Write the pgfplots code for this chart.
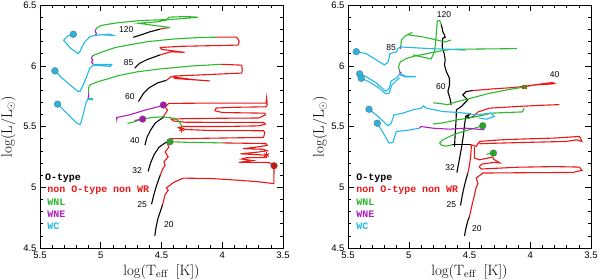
\documentclass[border=0pt]{standalone}
\usepackage{fontspec}
\usepackage{pgfplots}
\pgfplotsset{compat=1.18}
\newfontfamily\labfont{Liberation Sans}
\newfontfamily\legfont{Liberation Mono}
\definecolor{redC}{RGB}{235,22,22}
\definecolor{greenC}{RGB}{45,185,45}
\definecolor{purpC}{RGB}{175,30,190}
\definecolor{cyanC}{RGB}{35,185,230}
\definecolor{dotC}{RGB}{40,180,220}
\definecolor{dotP}{RGB}{165,25,170}
\definecolor{dotG}{RGB}{40,165,40}
\definecolor{dotR}{RGB}{200,20,20}
\tikzset{
 lab/.style={font=\labfont\fontsize{8.5}{9}\selectfont, inner sep=0pt},
 leg/.style={font=\legfont\bfseries\fontsize{10}{10}\selectfont, inner sep=0pt, anchor=west},
}
\pgfplotsset{
 hr/.style={scale only axis, width=243bp, height=243bp,
  xmin=3.5, xmax=5.5, ymin=4.5, ymax=6.5, x dir=reverse,
  xtick={3.5,4,4.5,5,5.5}, ytick={4.5,5,5.5,6,6.5},
  minor x tick num=4, minor y tick num=4,
  tick align=inside, major tick length=6bp, minor tick length=3bp,
  tick style={black, line width=0.5pt}, axis line style={line width=0.6pt},
  /pgf/number format/assume math mode=true,
  tick label style={font=\labfont\fontsize{9.5}{10}\selectfont},
  xlabel={$\log(\mathrm{T}_{\mathrm{eff}}\;\;[\mathrm{K}])$},
  ylabel={$\log(\mathrm{L}/\mathrm{L}_\odot)$},
  label style={font=\fontsize{15}{15}\selectfont},
  ylabel style={at={(axis description cs:-0.13,0.5)}, anchor=center},
  xlabel style={at={(axis description cs:0.5,-0.097)}, anchor=center},
 },
 ms/.style={black, line width=1.1bp},
 rd/.style={redC, line width=1.1bp},
 gr/.style={greenC, line width=1.1bp},
 pu/.style={purpC, line width=1.1bp},
 cy/.style={cyanC, line width=1.1bp},
 dc/.style={only marks, mark=*, mark size=3.4bp, mark options={fill=dotC, draw=black!60, line width=0.3bp}},
 dp/.style={only marks, mark=*, mark size=3.4bp, mark options={fill=dotP, draw=black!60, line width=0.3bp}},
 dg/.style={only marks, mark=*, mark size=3.4bp, mark options={fill=dotG, draw=black!60, line width=0.3bp}},
 dr/.style={only marks, mark=*, mark size=3.4bp, mark options={fill=dotR, draw=black!60, line width=0.3bp}},
}
\begin{document}
\begin{tikzpicture}
\useasboundingbox (-40bp,-32bp) rectangle (560bp,248bp);
% ================= LEFT PANEL =================
\begin{axis}[hr, at={(0,0)}, anchor=south west]
% main sequence
\addplot[ms] coordinates {(4.733,6.234)(4.68,6.25)(4.60,6.278)(4.51,6.302)};
\addplot[ms] coordinates {(4.72,5.98)(4.68,6.02)(4.62,6.05)(4.56,6.072)(4.51,6.09)};
\addplot[ms] coordinates {(4.69,5.705)(4.65,5.77)(4.60,5.82)(4.53,5.86)(4.46,5.88)};
\addplot[ms] coordinates {(4.636,5.347)(4.62,5.41)(4.59,5.47)(4.55,5.53)(4.50,5.565)(4.48,5.578)};
\addplot[ms] coordinates {(4.61,5.13)(4.59,5.20)(4.56,5.27)(4.52,5.33)(4.47,5.365)(4.43,5.375)};
\addplot[ms] coordinates {(4.582,4.86)(4.565,4.93)(4.545,5.00)(4.525,5.06)(4.51,5.10)};
\addplot[ms] coordinates {(4.555,4.60)(4.545,4.67)(4.53,4.74)(4.51,4.80)(4.49,4.86)};
% red
\addplot[rd] coordinates {(4.51,6.302)(4.47,6.31)(4.43,6.315)};
\addplot[rd] coordinates {(4.51,6.09)(4.42,6.115)(4.31,6.11)(4.50,6.135)(4.51,6.15)(4.34,6.16)(4.10,6.165)(3.87,6.17)(3.86,6.20)(3.88,6.235)(4.05,6.235)};
\addplot[rd] coordinates {(4.46,5.88)(4.42,5.91)(4.23,5.885)(4.10,5.875)(4.39,5.895)(4.40,5.915)(4.17,5.925)(3.84,5.94)(3.835,5.97)(3.84,6.005)(4.01,6.012)};
\addplot[rd] coordinates {(4.485,5.58)(4.45,5.635)(4.47,5.66)(4.44,5.69)(4.20,5.692)(3.90,5.692)(3.64,5.692)(3.635,5.735)(3.63,5.68)(3.64,5.662)(3.90,5.658)(4.05,5.652)(4.06,5.63)(4.00,5.615)(3.80,5.612)(3.65,5.61)(3.645,5.595)(3.70,5.57)(4.00,5.568)(4.30,5.565)(4.42,5.56)(4.40,5.545)(4.30,5.535)(3.66,5.533)(3.645,5.52)(3.70,5.505)(4.00,5.50)(4.33,5.50)(4.36,5.49)(4.30,5.475)(4.09,5.467)(3.66,5.465)(3.65,5.45)(3.66,5.41)(4.09,5.404)(4.30,5.40)(4.42,5.40)(4.44,5.385)};
\addplot[rd] coordinates {(4.00,5.365)(3.80,5.362)(3.64,5.36)(3.63,5.345)(3.72,5.33)(3.83,5.318)(3.66,5.312)(3.63,5.30)(3.70,5.29)(3.85,5.275)(3.70,5.268)(3.63,5.262)(3.65,5.245)(3.80,5.243)(3.84,5.232)(3.75,5.22)(3.86,5.205)(3.62,5.204)(3.59,5.19)(3.574,5.177)};
\addplot[rd] coordinates {(4.51,5.10)(4.49,5.15)(4.47,5.18)(4.48,5.21)(4.445,5.25)(4.47,5.29)(4.44,5.33)(4.45,5.36)(4.43,5.375)};
\addplot[rd] coordinates {(4.49,4.86)(4.47,4.94)(4.445,4.975)(4.46,4.995)(4.40,5.04)(4.32,5.075)(4.10,5.072)(3.90,5.06)(3.70,5.045)(3.575,5.03)(3.574,5.177)};
% green
\addplot[gr] coordinates {(4.43,6.315)(4.55,6.33)(4.69,6.35)(4.55,6.36)(4.46,6.375)(4.44,6.40)(4.30,6.405)(4.20,6.40)(4.30,6.39)(4.45,6.38)(4.60,6.375)(4.70,6.37)(4.85,6.355)(4.95,6.34)(5.00,6.33)(5.035,6.31)(5.04,6.30)};
\addplot[gr] coordinates {(4.05,6.235)(4.20,6.232)(4.40,6.22)(4.60,6.20)(4.75,6.175)(4.88,6.15)(4.97,6.12)(5.05,6.09)(5.07,6.08)};
\addplot[gr] coordinates {(4.01,6.012)(4.25,5.998)(4.50,5.975)(4.70,5.95)(4.85,5.92)(4.95,5.89)(5.02,5.87)(5.07,5.85)(5.09,5.84)(5.10,5.82)(5.10,5.78)};
\addplot[gr] coordinates {(4.78,5.525)(4.72,5.54)(4.66,5.56)(4.57,5.575)(4.49,5.58)(4.39,5.567)(4.36,5.548)(4.33,5.50)(4.335,5.475)};
\addplot[gr] coordinates {(4.43,5.375)(4.30,5.37)(4.15,5.368)(4.00,5.365)};
% purple
\addplot[pu] coordinates {(5.04,6.30)(5.045,6.28)(5.035,6.265)(5.045,6.25)};
\addplot[pu] coordinates {(5.07,6.08)(5.075,6.06)(5.065,6.045)(5.075,6.03)(5.06,6.01)};
\addplot[pu] coordinates {(5.10,5.78)(5.10,5.75)(5.105,5.73)};
\addplot[pu] coordinates {(4.87,5.58)(4.868,5.56)(4.865,5.575)(4.77,5.594)(4.70,5.615)(4.635,5.635)(4.526,5.663)(4.485,5.677)};
\addplot[pu] coordinates {(4.72,5.55)(4.655,5.561)};
% cyan
\addplot[cy] coordinates {(5.045,6.25)(4.93,6.26)(4.90,6.25)(5.00,6.255)(5.045,6.25)(5.09,6.24)(5.14,6.185)(5.17,6.12)(5.185,6.10)(5.25,6.145)(5.305,6.21)(5.27,6.245)(5.226,6.259)};
\addplot[cy] coordinates {(5.06,6.01)(4.91,6.01)(4.92,5.995)(5.06,6.005)(5.09,5.98)(5.10,5.955)(5.12,5.90)(5.15,5.83)(5.17,5.79)(5.19,5.79)(5.25,5.84)(5.32,5.90)(5.377,5.958)};
\addplot[cy] coordinates {(5.105,5.73)(5.07,5.73)(5.07,5.72)(5.105,5.725)(5.12,5.70)(5.14,5.62)(5.16,5.54)(5.17,5.515)(5.20,5.53)(5.26,5.59)(5.31,5.64)(5.355,5.684)};
% dots
\addplot[dc] coordinates {(5.226,6.259)(5.377,5.958)(5.355,5.684)};
\addplot[dp] coordinates {(4.485,5.677)(4.655,5.561)};
\addplot[dg] coordinates {(4.43,5.375)};
\addplot[dr] coordinates {(3.574,5.177)};
\addplot[only marks, mark=asterisk, mark size=3bp, redC, line width=0.8bp] coordinates {(4.335,5.475)(3.635,5.265)};
% labels
\node[lab] at (axis cs:4.79,6.295) {120};
\node[lab] at (axis cs:4.77,6.03) {85};
\node[lab] at (axis cs:4.76,5.745) {60};
\node[lab] at (axis cs:4.72,5.38) {40};
\node[lab] at (axis cs:4.70,5.14) {32};
\node[lab] at (axis cs:4.66,4.856) {25};
\node[lab] at (axis cs:4.44,4.69) {20};
\node[leg, text=black] at (axis cs:5.46,5.075) {O-type};
\node[leg, text=redC] at (axis cs:5.44,4.974) {non O-type non WR};
\node[leg, text=greenC] at (axis cs:5.44,4.878) {WNL};
\node[leg, text=purpC] at (axis cs:5.44,4.78) {WNE};
\node[leg, text=cyanC] at (axis cs:5.44,4.678) {WC};
\end{axis}
% ================= RIGHT PANEL =================
\begin{axis}[hr, at={(308bp,0)}, anchor=south west,
  ylabel style={at={(axis description cs:-0.115,0.5)}, anchor=center}]
% black
\addplot[ms] coordinates {(4.651,5.678)(4.66,5.73)(4.678,5.788)(4.665,5.84)(4.665,5.897)(4.69,5.95)(4.706,6.007)(4.70,6.05)(4.706,6.089)(4.725,6.158)(4.72,6.226)(4.70,6.235)(4.71,6.26)(4.72,6.28)(4.725,6.31)(4.733,6.34)};
\addplot[ms] coordinates {(4.623,5.335)(4.62,5.40)(4.615,5.48)(4.61,5.56)(4.608,5.637)(4.568,5.664)(4.514,5.719)(4.555,5.76)(4.527,5.788)(4.473,5.796)};
\addplot[ms] coordinates {(4.64,5.35)(4.49,5.35)};
\addplot[ms] coordinates {(4.604,5.12)(4.585,5.22)(4.565,5.33)(4.55,5.43)(4.54,5.52)(4.53,5.585)(4.50,5.60)(4.52,5.57)(4.49,5.575)(4.47,5.58)};
\addplot[ms] coordinates {(4.574,4.85)(4.56,4.93)(4.545,5.00)(4.53,5.06)(4.514,5.115)};
\addplot[ms] coordinates {(4.541,4.60)(4.53,4.66)(4.515,4.72)(4.50,4.76)};
% red
\addplot[rd] coordinates {(4.473,5.796)(4.42,5.80)(4.30,5.81)(4.15,5.82)(4.05,5.83)(3.95,5.845)(3.82,5.862)(3.80,5.855)(3.82,5.85)(3.95,5.843)(4.035,5.83)};
\addplot[rd] coordinates {(4.47,5.58)(4.43,5.62)(4.336,5.651)(4.10,5.665)(3.90,5.675)(3.76,5.68)};
\addplot[rd] coordinates {(4.514,5.115)(4.50,5.18)(4.49,5.26)(4.485,5.33)(4.487,5.35)(4.445,5.336)(4.418,5.377)(4.25,5.39)(4.09,5.396)(3.80,5.405)(3.596,5.418)(3.582,5.395)(3.575,5.377)(3.62,5.39)(3.706,5.377)(4.00,5.37)(4.30,5.362)(4.418,5.358)};
\addplot[rd] coordinates {(4.50,4.76)(4.48,4.85)(4.46,4.93)(4.445,5.00)(4.43,5.03)(4.445,5.075)(4.39,5.117)(4.0,5.12)(3.651,5.122)(3.574,5.139)(3.596,5.166)(3.80,5.17)(4.10,5.165)(4.404,5.15)(4.42,5.17)(4.40,5.19)(4.30,5.205)(4.25,5.20)(4.30,5.23)(4.31,5.248)(4.418,5.226)(4.46,5.24)(4.46,5.33)};
% green
\addplot[gr] coordinates {(4.733,6.34)(4.745,6.372)(4.765,6.368)(4.772,6.28)(4.78,6.18)(4.788,6.116)(4.816,6.056)(4.88,6.07)(4.966,6.089)};
\addplot[gr] coordinates {(5.065,6.165)(5.06,6.215)(5.03,6.245)(4.97,6.275)(5.01,6.255)(4.90,6.24)(4.78,6.215)(4.70,6.195)(4.651,6.212)};
\addplot[gr] coordinates {(5.075,5.96)(5.085,5.99)(5.07,6.03)(5.02,6.06)(4.95,6.08)(4.85,6.10)(4.75,6.12)(4.65,6.135)(4.40,6.138)(4.20,6.14)(4.11,6.142)};
\addplot[gr] coordinates {(4.80,5.695)(4.75,5.69)(4.68,5.68)(4.62,5.70)(4.50,5.73)(4.35,5.77)(4.20,5.80)(4.05,5.825)};
\addplot[gr] coordinates {(4.80,5.52)(4.72,5.53)(4.60,5.555)(4.50,5.57)(4.40,5.59)(4.32,5.61)(4.20,5.615)(4.065,5.62)(4.05,5.65)};
\addplot[gr] coordinates {(4.391,5.506)(4.48,5.48)(4.58,5.45)(4.66,5.42)(4.72,5.39)(4.745,5.365)(4.73,5.345)(4.69,5.338)(4.64,5.35)};
\addplot[gr] coordinates {(4.36,5.272)(4.303,5.281)};
% purple
\addplot[pu] coordinates {(5.065,6.165)(5.07,6.14)};
\addplot[pu] coordinates {(5.075,5.96)(5.072,5.935)(5.06,5.945)};
\addplot[pu] coordinates {(4.912,5.486)(4.90,5.50)(4.80,5.486)(4.664,5.478)(4.527,5.486)(4.377,5.473)};
% cyan
\addplot[cy] coordinates {(5.432,6.116)(5.35,6.10)(5.27,6.05)(5.20,6.007)(5.17,6.03)(5.155,6.10)(5.10,6.115)(5.09,6.14)(5.07,6.155)(4.95,6.148)(4.80,6.14)(4.65,6.135)(4.53,6.128)};
\addplot[cy] coordinates {(5.404,5.933)(5.35,5.91)(5.27,5.86)(5.19,5.79)(5.16,5.815)(5.145,5.875)(5.10,5.90)(5.072,5.935)(5.03,5.915)(4.94,5.91)(5.03,5.908)(5.07,5.925)};
\addplot[cy] coordinates {(5.391,5.897)(5.33,5.87)(5.25,5.82)(5.19,5.77)(5.16,5.775)(5.14,5.84)(5.10,5.88)(5.075,5.90)};
\addplot[cy] coordinates {(5.327,5.642)(5.253,5.582)(5.171,5.505)(5.144,5.527)(5.122,5.596)(5.048,5.610)(4.966,5.637)(4.897,5.651)(4.878,5.67)(4.856,5.651)(4.719,5.623)(4.582,5.615)(4.445,5.596)(4.322,5.61)(4.295,5.582)(4.363,5.56)(4.42,5.57)};
\addplot[cy] coordinates {(5.259,5.527)(5.20,5.43)(5.163,5.363)(5.13,5.368)(5.103,5.459)(5.021,5.467)(4.912,5.486)};
% dots
\addplot[dc] coordinates {(5.432,6.116)(5.404,5.933)(5.391,5.897)(5.327,5.642)(5.259,5.527)};
\addplot[dg] coordinates {(4.391,5.506)(4.303,5.281)};
\addplot[only marks, mark=square*, mark size=1.6bp, mark options={fill=olive!80!black, draw=olive!80!black}] coordinates {(4.05,5.828)};
% labels
\node[lab] at (axis cs:4.71,6.42) {120};
\node[lab] at (axis cs:5.145,6.15) {85};
\node[lab] at (axis cs:4.735,5.83) {60};
\node[lab] at (axis cs:3.80,5.925) {40};
\node[lab] at (axis cs:4.66,5.16) {32};
\node[lab] at (axis cs:4.65,4.86) {25};
\node[lab] at (axis cs:4.44,4.66) {20};
\node[leg, text=black] at (axis cs:5.432,5.075) {O-type};
\node[leg, text=redC] at (axis cs:5.432,4.974) {non O-type non WR};
\node[leg, text=greenC] at (axis cs:5.432,4.878) {WNL};
\node[leg, text=purpC] at (axis cs:5.432,4.78) {WNE};
\node[leg, text=cyanC] at (axis cs:5.432,4.678) {WC};
\end{axis}
\end{tikzpicture}
\end{document}
